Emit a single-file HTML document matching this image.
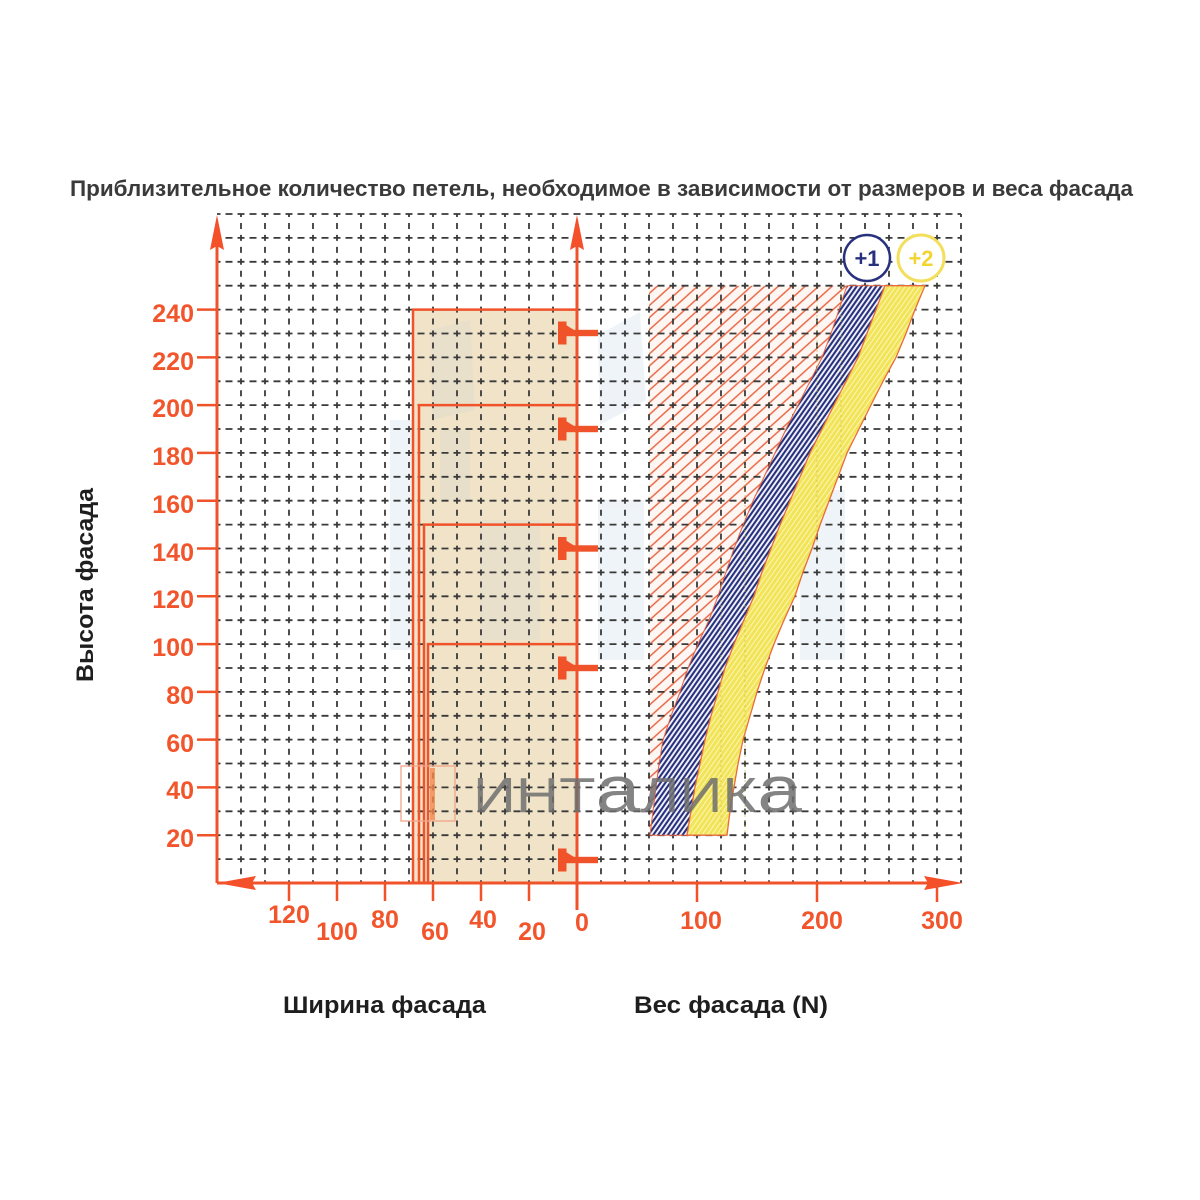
<!DOCTYPE html>
<html><head><meta charset="utf-8"><style>
html,body{margin:0;padding:0;background:#fff;}
svg{display:block;}
text{font-family:"Liberation Sans","DejaVu Sans",sans-serif;}
</style></head><body>
<svg width="1200" height="1200" viewBox="0 0 1200 1200" xmlns="http://www.w3.org/2000/svg">
<defs>
<pattern id="redh" patternUnits="userSpaceOnUse" width="9" height="9" patternTransform="rotate(-42)">
<rect width="9" height="9" fill="#fdf6f3"/>
<line x1="0" y1="4.5" x2="9" y2="4.5" stroke="#e8603c" stroke-width="1.4"/>
</pattern>
<pattern id="blueh" patternUnits="userSpaceOnUse" width="4" height="4" patternTransform="rotate(-55)">
<rect width="4" height="4" fill="#f4f5fb"/>
<line x1="0" y1="2" x2="4" y2="2" stroke="#27317e" stroke-width="2.1"/>
</pattern>
<pattern id="yelh" patternUnits="userSpaceOnUse" width="4" height="4" patternTransform="rotate(-55)">
<rect width="4" height="4" fill="#f2e458"/>
<line x1="0" y1="2" x2="4" y2="2" stroke="#fbf5b6" stroke-width="1"/>
</pattern>
</defs>

<rect width="1200" height="1200" fill="#fff"/>

<!-- pale watermark blobs -->
<g fill="#e2ebf3" opacity="0.55">
<rect x="390" y="420" width="22" height="230"/>
<polygon points="598,335 640,312 646,400 600,425"/>
<rect x="598" y="500" width="46" height="160"/>
<rect x="800" y="490" width="45" height="170"/>
</g>

<!-- beige fill -->
<rect x="413" y="309.6" width="164" height="573.4" fill="#f0e3c7"/>
<g fill="#e4ddcf" opacity="0.6">
<polygon points="430,330 470,320 475,410 432,420"/>
<polygon points="480,520 540,520 540,640 480,640"/>
<polygon points="440,430 470,430 470,500 440,500"/>
</g>

<!-- red hatch region -->
<path d="M649,285.7 L847,285.7 L839,309.6 L831,333.5 L822,357.4 L810,381.3 L798,405 L786,429 L775,453 L764,477 L753,501 L743,525 L734,548.5 L726,572 L718,596 L709,620 L698,644 L688,668 L680,692 L671,716 L663,740 L659,764 L656,787 L653,811 L650,835.2 L649,835.2 Z" fill="url(#redh)"/>

<!-- grid -->
<g stroke="#3a3a3a" stroke-width="1.8" fill="none" stroke-dasharray="7 5" stroke-dashoffset="3.5">
<path d="M217,214 H961"/><path d="M217,237.9 H961"/><path d="M217,261.8 H961"/><path d="M217,285.7 H961"/>
<path d="M217,309.6 H961"/><path d="M217,333.5 H961"/><path d="M217,357.4 H961"/><path d="M217,381.3 H961"/>
<path d="M217,405.1 H961"/><path d="M217,429 H961"/><path d="M217,452.9 H961"/><path d="M217,476.8 H961"/>
<path d="M217,500.7 H961"/><path d="M217,524.6 H961"/><path d="M217,548.5 H961"/><path d="M217,572.4 H961"/>
<path d="M217,596.3 H961"/><path d="M217,620.2 H961"/><path d="M217,644.1 H961"/><path d="M217,668 H961"/>
<path d="M217,691.9 H961"/><path d="M217,715.8 H961"/><path d="M217,739.6 H961"/><path d="M217,763.5 H961"/>
<path d="M217,787.4 H961"/><path d="M217,811.3 H961"/><path d="M217,835.2 H961"/><path d="M217,859.1 H961"/>
</g>
<g stroke="#3a3a3a" stroke-width="1.8" fill="none" stroke-dasharray="6 5.95" stroke-dashoffset="3">
<path d="M241,214 V883"/><path d="M265,214 V883"/><path d="M289,214 V883"/><path d="M313,214 V883"/>
<path d="M337,214 V883"/><path d="M361,214 V883"/><path d="M385,214 V883"/><path d="M409,214 V883"/>
<path d="M433,214 V883"/><path d="M457,214 V883"/><path d="M481,214 V883"/><path d="M505,214 V883"/>
<path d="M529,214 V883"/><path d="M553,214 V883"/><path d="M601,214 V883"/><path d="M625,214 V883"/>
<path d="M649,214 V883"/><path d="M673,214 V883"/><path d="M697,214 V883"/><path d="M721,214 V883"/>
<path d="M745,214 V883"/><path d="M769,214 V883"/><path d="M793,214 V883"/><path d="M817,214 V883"/>
<path d="M841,214 V883"/><path d="M865,214 V883"/><path d="M889,214 V883"/><path d="M913,214 V883"/>
<path d="M937,214 V883"/><path d="M961,214 V883"/>
</g>

<!-- blue band -->
<path d="M847,285.7 L839,309.6 L831,333.5 L822,357.4 L810,381.3 L798,405 L786,429 L775,453 L764,477 L753,501 L743,525 L734,548.5 L726,572 L718,596 L709,620 L698,644 L688,668 L680,692 L671,716 L663,740 L659,764 L656,787 L653,811 L650,835.2 L687,835.2 L691,811 L695,787 L700,764 L705,740 L711,716 L718,692 L725,668 L734,644 L744,620 L754,596 L762,572 L771,548.5 L780,525 L790,501 L800,477 L810,453 L822,429 L834,405 L846,381.3 L858,357.4 L867,333.5 L876,309.6 L885,285.7 Z" fill="url(#blueh)" stroke="#e8603c" stroke-width="1"/>
<!-- yellow band -->
<path d="M885,285.7 L876,309.6 L867,333.5 L858,357.4 L846,381.3 L834,405 L822,429 L810,453 L800,477 L790,501 L780,525 L771,548.5 L762,572 L754,596 L744,620 L734,644 L725,668 L718,692 L711,716 L705,740 L700,764 L695,787 L691,811 L687,835.2 L727,835.2 L730,811 L734,787 L738,764 L743,740 L750,716 L757,692 L765,668 L774,644 L784,620 L795,596 L803,572 L812,548.5 L820,525 L829,501 L838,477 L847,453 L859,429 L871,405 L883,381.3 L896,357.4 L906,333.5 L915,309.6 L925,285.7 Z" fill="url(#yelh)" stroke="#ea6a3a" stroke-width="1.3"/>
<g stroke="#c9b93a" stroke-width="1" stroke-dasharray="2 3" opacity="0.6">
<path d="M721,560 V835"/><path d="M745,460 V835"/><path d="M817,300 V560"/><path d="M841,285 V460"/>
</g>

<!-- width rectangles -->
<g stroke="#f0522a" stroke-width="2.5" fill="none">
<path d="M413,883 V309.6 H577"/>
<path d="M419,883 V405.1 H577"/>
<path d="M424,883 V524.6 H577"/>
<path d="M428,883 V644.1 H577"/>
</g>

<!-- hinges -->
<g fill="#f0522a">
<g transform="translate(0,333)"><rect x="558" y="-11.5" width="8.5" height="23"/><polygon points="566,-8 574,-3 566,-3"/><rect x="565" y="-3.2" width="33" height="6.4"/></g>
<g transform="translate(0,429)"><rect x="558" y="-11.5" width="8.5" height="23"/><polygon points="566,-8 574,-3 566,-3"/><rect x="565" y="-3.2" width="33" height="6.4"/></g>
<g transform="translate(0,548.5)"><rect x="558" y="-11.5" width="8.5" height="23"/><polygon points="566,-8 574,-3 566,-3"/><rect x="565" y="-3.2" width="33" height="6.4"/></g>
<g transform="translate(0,668)"><rect x="558" y="-11.5" width="8.5" height="23"/><polygon points="566,-8 574,-3 566,-3"/><rect x="565" y="-3.2" width="33" height="6.4"/></g>
<g transform="translate(0,860)"><rect x="558" y="-11.5" width="8.5" height="23"/><polygon points="566,-8 574,-3 566,-3"/><rect x="565" y="-3.2" width="33" height="6.4"/></g>
</g>

<!-- axes -->
<g stroke="#f0522a" stroke-width="3" fill="none">
<path d="M217,883 V240"/>
<path d="M577,910 V240"/>
<path d="M217,883 H935"/>
</g>
<g fill="#f4502a">
<polygon points="217,215 224,250 217,246 210,250"/>
<polygon points="577,215 584,250 577,246 570,250"/>
<polygon points="963,883 924,876 928,883 924,890"/>
<polygon points="217,883 256,876 252,883 256,890"/>
</g>
<!-- ticks -->
<g stroke="#f0522a" stroke-width="2.5">
<path d="M197,309.6 H217"/><path d="M197,357.4 H217"/><path d="M197,405.1 H217"/><path d="M197,452.9 H217"/>
<path d="M197,500.7 H217"/><path d="M197,548.5 H217"/><path d="M197,596.3 H217"/><path d="M197,644.1 H217"/>
<path d="M197,691.9 H217"/><path d="M197,739.6 H217"/><path d="M197,787.4 H217"/><path d="M197,835.2 H217"/>
<path d="M289,883 V901"/><path d="M337,883 V901"/><path d="M385,883 V901"/><path d="M433,883 V901"/>
<path d="M481,883 V901"/><path d="M529,883 V901"/>
<path d="M697,883 V902"/><path d="M817,883 V902"/><path d="M937,883 V902"/>
</g>

<!-- y labels -->
<g fill="#f2552b" font-weight="bold" font-size="25" text-anchor="end">
<text x="194" y="322">240</text>
<text x="194" y="370">220</text>
<text x="194" y="417">200</text>
<text x="194" y="465">180</text>
<text x="194" y="513">160</text>
<text x="194" y="561">140</text>
<text x="194" y="608">120</text>
<text x="194" y="656">100</text>
<text x="194" y="704">80</text>
<text x="194" y="752">60</text>
<text x="194" y="799">40</text>
<text x="194" y="847">20</text>
</g>
<!-- x labels -->
<g fill="#f2552b" font-weight="bold" font-size="25" text-anchor="middle">
<text x="289" y="923">120</text>
<text x="337" y="940">100</text>
<text x="385" y="928">80</text>
<text x="435" y="940">60</text>
<text x="483" y="928">40</text>
<text x="532" y="940">20</text>
<text x="582" y="931">0</text>
<text x="701" y="929">100</text>
<text x="822" y="929">200</text>
<text x="942" y="929">300</text>
</g>

<!-- watermark logo -->
<g stroke="#f2a488" stroke-width="1.3" fill="none">
<rect x="401" y="766" width="54" height="55"/>
</g>
<rect x="430" y="768" width="5" height="52" fill="#f4874f" opacity="0.8"/>
<text x="473" y="812" font-size="49" fill="#6e6e6e" fill-opacity="0.85" textLength="329" lengthAdjust="spacingAndGlyphs">ИНТ<tspan font-size="66">а</tspan>ЛИК<tspan font-size="66">а</tspan></text>

<!-- circles -->
<circle cx="867" cy="258" r="23" fill="#fff" stroke="#27317e" stroke-width="2.5"/>
<text x="867" y="266" font-size="22" font-weight="bold" fill="#27317e" text-anchor="middle">+1</text>
<circle cx="921" cy="258" r="23" fill="#fff" stroke="#f3df5c" stroke-width="3"/>
<text x="921" y="266" font-size="22" font-weight="bold" fill="#f2d531" text-anchor="middle">+2</text>

<!-- titles -->
<text x="70" y="196" font-size="22" font-weight="bold" fill="#3a3a3a" textLength="1063" lengthAdjust="spacingAndGlyphs">Приблизительное количество петель, необходимое в зависимости от размеров и веса фасада</text>
<text transform="translate(93,585) rotate(-90)" font-size="24" font-weight="bold" fill="#1e1e1e" text-anchor="middle" textLength="194" lengthAdjust="spacingAndGlyphs">Высота фасада</text>
<text x="283" y="1013" font-size="24" font-weight="bold" fill="#1e1e1e" textLength="203" lengthAdjust="spacingAndGlyphs">Ширина фасада</text>
<text x="634" y="1013" font-size="24" font-weight="bold" fill="#1e1e1e" textLength="194" lengthAdjust="spacingAndGlyphs">Вес фасада (N)</text>
</svg>
</body></html>
